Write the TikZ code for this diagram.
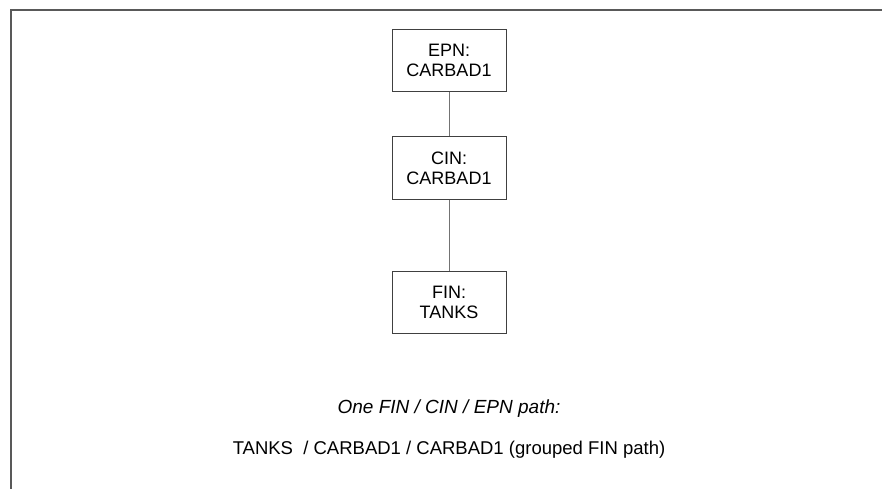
\documentclass[tikz,border=0pt]{standalone}
\usepackage{fontspec}
\setmainfont{Liberation Sans}
\begin{document}
\begin{tikzpicture}[x=1pt,y=-1pt,
  box/.style={draw=black!75, line width=1pt, fill=white, minimum width=114pt, minimum height=62pt, inner sep=0pt, align=center, font=\fontsize{18}{20}\selectfont},
  link/.style={draw=black!55, line width=1pt},
  frameline/.style={draw=black!65, line width=2pt}]
\useasboundingbox (0,0) rectangle (882,489);
\coordinate (tl) at (11,10);
\coordinate (tr) at (882,10);
\coordinate (bl) at (11,489);
\draw[frameline] (tr) -- (tl) -- (bl);
\node[box] (epn) at (449,60.5) {EPN:\\CARBAD1};
\node[box] (cin) at (449,168) {CIN:\\CARBAD1};
\node[box] (fin) at (449,302) {FIN:\\TANKS};
\draw[link] (epn) -- (cin);
\draw[link] (cin) -- (fin);
\node[font=\fontsize{19}{20}\selectfont\itshape] (t1) at (449,409) {One FIN / CIN / EPN path:};
\node[font=\fontsize{18.5}{20}\selectfont] (t2) at (449,450) {TANKS\ \ / CARBAD1 / CARBAD1 (grouped FIN path)};
\end{tikzpicture}
\end{document}
